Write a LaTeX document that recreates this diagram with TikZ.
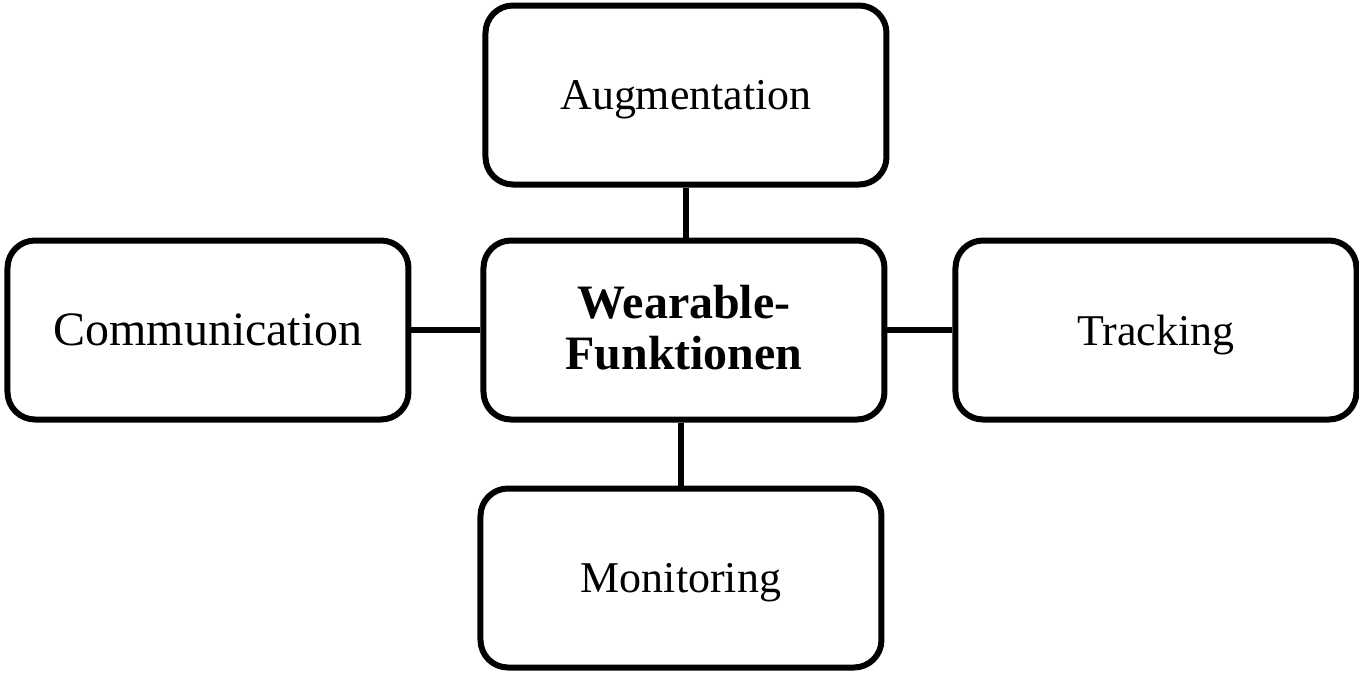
\documentclass[tikz,border=0pt]{standalone}
\usepackage{fontspec}
\setmainfont{Liberation Serif}
\tikzset{
	funcbox/.style = {draw, line width = 0.12cm, rounded corners = 0.55cm, minimum width = 8.02cm, minimum height = 3.58cm, text depth = 0pt, font = \fontsize{25}{30}\selectfont},
	link/.style = {line width = 0.12cm},
}
\begin{document}
\begin{tikzpicture}
	\useasboundingbox ( -13.68, -6.96 ) rectangle ( 13.5, 6.6 );
	\node[funcbox, text depth = \pgfkeysvalueof{/pgf/inner ysep}, align = center, font = \fontsize{27.3}{29}\selectfont\bfseries] (wearable) at ( 0, 0 ) {Wearable-\\Funktionen};
	\node[funcbox] (augmentation) at ( 0.04, 4.7 ) {Augmentation};
	\node[funcbox, font = \fontsize{27.3}{30}\selectfont] (communication) at ( -9.52, 0 ) {Communication};
	\node[funcbox] (tracking) at ( 9.44, 0 ) {Tracking};
	\node[funcbox] (monitoring) at ( -0.06, -4.96 ) {Monitoring};
	\draw[link] (augmentation.south) -- (augmentation.south |- wearable.north);
	\draw[link] (monitoring.north) -- (monitoring.north |- wearable.south);
	\draw[link] (communication.east) -- (wearable.west);
	\draw[link] (wearable.east) -- (tracking.west);
\end{tikzpicture}
\end{document}
